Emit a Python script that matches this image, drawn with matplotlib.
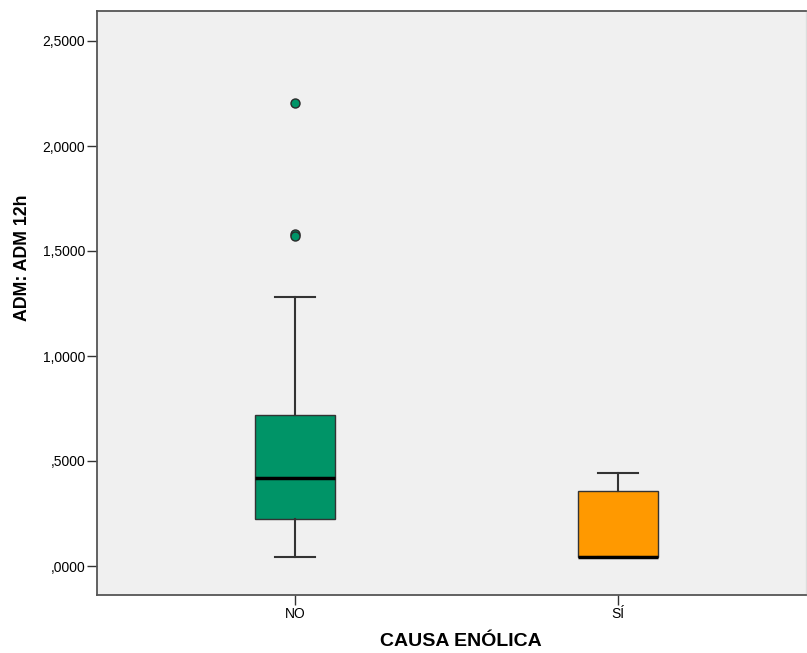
import matplotlib.pyplot as plt

# box summaries per group
groups = ["NO", "SÍ"]
q1 = [0.224, 0.043]
med = [0.419, 0.043]
q3 = [0.719, 0.357]
lo_whisk = [0.043, 0.043]
hi_whisk = [1.280, 0.443]
outliers = [[2.205, 1.581, 1.572], []]
colors = ["#009467", "#ff9900"]

W, H = 807, 653
fig = plt.figure(figsize=(W / 100, H / 100), dpi=100)
fig.patch.set_facecolor("white")
ax = fig.add_axes([97 / W, 1 - 595 / H, (806 - 97) / W, (595 - 11) / H])
ax.set_facecolor("#f0f0f0")

stats = []
for i, g in enumerate(groups):
    stats.append(dict(label=g, q1=q1[i], med=med[i], q3=q3[i],
                      whislo=lo_whisk[i], whishi=hi_whisk[i], fliers=outliers[i]))

bp = ax.bxp(stats, positions=[1, 2], widths=0.25, patch_artist=True,
            showfliers=True,
            boxprops=dict(edgecolor="#333333", linewidth=1.0),
            medianprops=dict(color="black", linewidth=2.5),
            whiskerprops=dict(color="#333333", linewidth=1.5),
            capprops=dict(color="#333333", linewidth=1.5),
            capwidths=0.125,
            flierprops=dict(marker="o", markersize=6.5, markeredgecolor="#2a2a2a",
                            markeredgewidth=1.0, linestyle="none"))
for patch, c in zip(bp["boxes"], colors):
    patch.set_facecolor(c)
for fl, c in zip(bp["fliers"], colors):
    fl.set_markerfacecolor(c)

ax.set_xlim(1 - 198 / 323, 2 + 188 / 323)
ax.set_ylim(-(595 - 566) / 210, (566 - 11) / 210)

yt = [0, 0.5, 1.0, 1.5, 2.0, 2.5]
ax.set_yticks(yt)
ax.set_yticklabels([",0000", ",5000", "1,0000", "1,5000", "2,0000", "2,5000"])
ax.set_xticks([1, 2])
ax.set_xticklabels(groups)
ax.tick_params(axis="both", labelsize=10, colors="#333333", labelcolor="black",
               length=7, width=1.0, pad=1.5)

for s in ax.spines.values():
    s.set_color("#555555")
    s.set_linewidth(1.3)
ax.spines["right"].set_color("#dddddd")
ax.spines["right"].set_linewidth(1.0)

ax.set_xlabel("CAUSA ENÓLICA", fontsize=14, fontweight="bold", family="Liberation Sans")
ax.set_ylabel("ADM: ADM 12h", fontsize=12.8, fontweight="bold", family="Liberation Sans")
ax.xaxis.set_label_coords((461 - 97) / 709, -(641 - 595) / 584)
ax.xaxis.label.set_va("center")
ax.yaxis.set_label_coords(-(97 - 23) / 709, (595 - 258) / 584)
ax.yaxis.label.set_va("center")
for lbl in ax.get_xticklabels() + ax.get_yticklabels():
    lbl.set_family("Liberation Sans")

fig.savefig("out.png", dpi=100)
